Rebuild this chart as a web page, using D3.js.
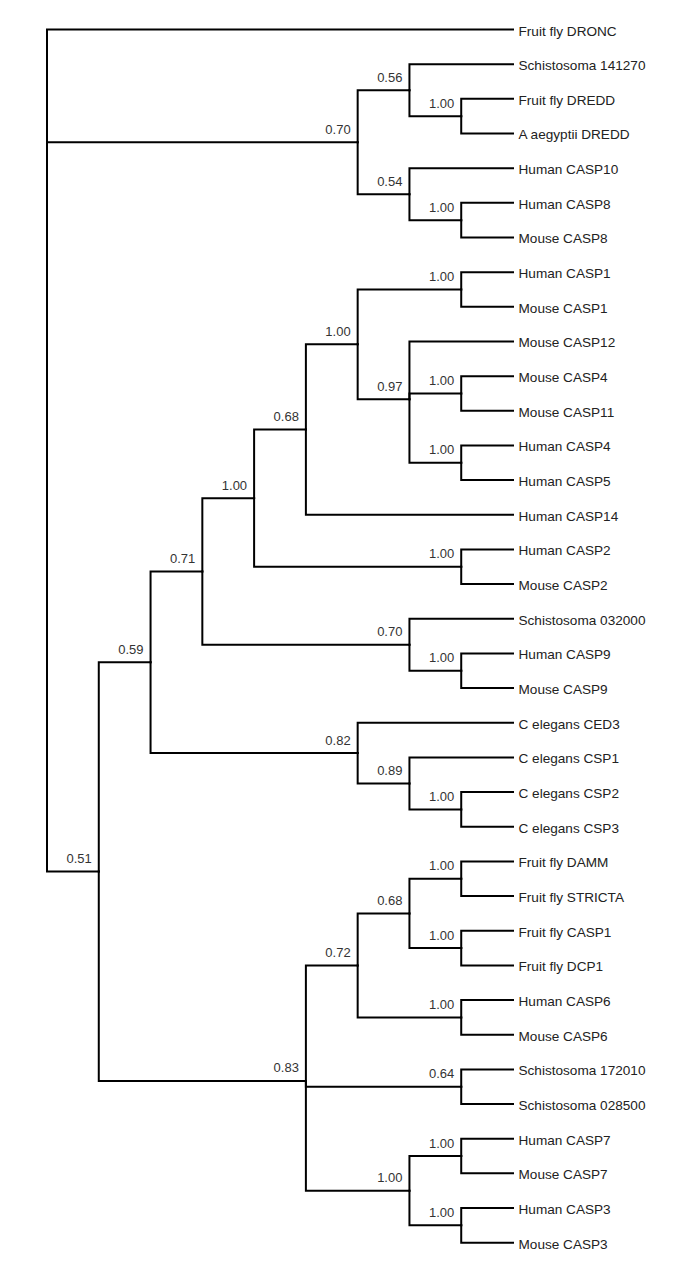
<!DOCTYPE html>
<html>
<head>
<meta charset="utf-8">
<script src="https://cdn.jsdelivr.net/npm/d3@7"></script>
<style>
  html, body { margin: 0; padding: 0; background: #fff; }
  svg { display: block; }
</style>
</head>
<body>
<svg id="chart" width="685" height="1270"></svg>
<script>
// Leaf labels, top to bottom
const leaves = [
  "Fruit fly DRONC", "Schistosoma 141270", "Fruit fly DREDD", "A aegyptii DREDD",
  "Human CASP10", "Human CASP8", "Mouse CASP8", "Human CASP1", "Mouse CASP1",
  "Mouse CASP12", "Mouse CASP4", "Mouse CASP11", "Human CASP4", "Human CASP5",
  "Human CASP14", "Human CASP2", "Mouse CASP2", "Schistosoma 032000",
  "Human CASP9", "Mouse CASP9", "C elegans CED3", "C elegans CSP1",
  "C elegans CSP2", "C elegans CSP3", "Fruit fly DAMM", "Fruit fly STRICTA",
  "Fruit fly CASP1", "Fruit fly DCP1", "Human CASP6", "Mouse CASP6",
  "Schistosoma 172010", "Schistosoma 028500", "Human CASP7", "Mouse CASP7",
  "Human CASP3", "Mouse CASP3"
];

// Tree topology: each clade is [support, ...children]; integers are leaf indices
const topology = [null, 0,
  [0.70, [0.56, 1, [1.00, 2, 3]], [0.54, 4, [1.00, 5, 6]]],
  [0.51,
    [0.59,
      [0.71,
        [1.00,
          [0.68,
            [1.00, [1.00, 7, 8], [0.97, 9, [1.00, 10, 11], [1.00, 12, 13]]],
            14],
          [1.00, 15, 16]],
        [0.70, 17, [1.00, 18, 19]]],
      [0.82, 20, [0.89, 21, [1.00, 22, 23]]]],
    [0.83,
      [0.72, [0.68, [1.00, 24, 25], [1.00, 26, 27]], [1.00, 28, 29]],
      [0.64, 30, 31],
      [1.00, [1.00, 32, 33], [1.00, 34, 35]]]]
];

const svg = d3.select("#chart");

const root = d3.hierarchy(topology, d => Array.isArray(d) ? d.slice(1) : null);
const maxH = root.height; // 9
d3.cluster()
  .separation(() => 1)
  .size([leaves.length, maxH])(root);

// scales: cluster x -> vertical pixel, cluster y -> horizontal pixel
const yScale = d3.scaleLinear().domain([0.5, leaves.length - 0.5]).range([29.5, 1242.7]);
const xScale = d3.scaleLinear().domain([0, maxH]).range([47, 513]);

const fmt = d3.format(".2f");

// links (elbow)
svg.append("g")
  .attr("fill", "none")
  .attr("stroke", "#000")
  .attr("stroke-width", 2)
  .attr("stroke-linecap", "square")
  .selectAll("path")
  .data(root.links())
  .join("path")
  .attr("d", l => {
    const px = xScale(l.source.y), py = yScale(l.source.x);
    const cx = xScale(l.target.y), cy = yScale(l.target.x);
    return `M${px},${py}V${cy}H${cx}`;
  });

// leaf labels
svg.append("g")
  .attr("font-family", "'Liberation Sans', Arial, sans-serif")
  .attr("font-size", 13.6)
  .attr("fill", "#222")
  .selectAll("text")
  .data(root.leaves())
  .join("text")
  .attr("x", d => xScale(d.y) + 5.5)
  .attr("y", d => yScale(d.x) + 6)
  .text(d => leaves[d.data]);

// support values
svg.append("g")
  .attr("font-family", "'Liberation Sans', Arial, sans-serif")
  .attr("font-size", 13)
  .attr("fill", "#333")
  .attr("text-anchor", "end")
  .selectAll("text")
  .data(root.descendants().filter(d => d.children && d.data[0] !== null))
  .join("text")
  .attr("x", d => xScale(d.y) - 7)
  .attr("y", d => yScale(d.x) - 8.5)
  .text(d => fmt(d.data[0]));
</script>
</body>
</html>
